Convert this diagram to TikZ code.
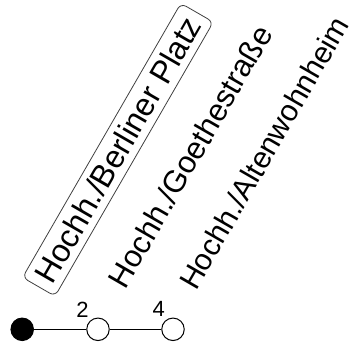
\documentclass[tikz,border=0pt]{standalone}
\usepackage{fontspec}
\setmainfont{Liberation Sans}
\begin{document}
\begin{tikzpicture}[x=1bp,y=-1bp,
  station/.style={rotate=60,anchor=base west,inner sep=0pt,font=\fontsize{31bp}{37bp}\selectfont},
  current/.style={station,draw=black!75,line width=0.8bp,rounded corners=6bp,inner xsep=8bp,inner ysep=7bp},
  stop/.style={circle,draw=black,line width=1bp,minimum size=22.5bp,inner sep=0pt,fill=white},
  here/.style={stop,fill=black},
  num/.style={inner sep=0pt,font=\fontsize{22bp}{26bp}\selectfont},
  link/.style={draw=black,line width=1bp}]
\useasboundingbox (0,0) rectangle (358,345);
\node[current,font=\fontsize{32bp}{38bp}\selectfont] (s1) at (48.5,292.9) {Hochh./Berliner Platz};
\node[station] (s2) at (125.4,290.5) {Hochh./Goethestraße};
\node[station,font=\fontsize{30bp}{36bp}\selectfont] (s3) at (196,292) {Hochh./Altenwohnheim};
\node[here] (c1) at (22.2,329.3) {};
\node[stop] (c2) at (98,329.3) {};
\node[stop] (c3) at (173,329.3) {};
\draw[link] (c1) -- (c2);
\draw[link] (c2) -- (c3);
\node[num] (n2) at (82.5,309.5) {2};
\node[num] (n4) at (158.7,309.2) {4};
\end{tikzpicture}
\end{document}
